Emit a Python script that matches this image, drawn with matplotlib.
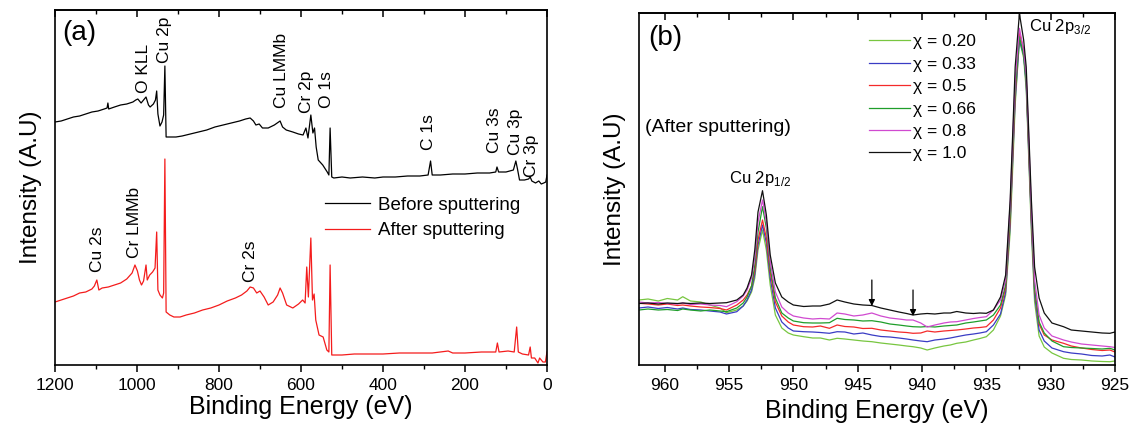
import matplotlib
matplotlib.use("Agg")
import matplotlib.pyplot as plt
from matplotlib.ticker import MultipleLocator

plt.rcParams['font.family'] = ['Liberation Sans', 'DejaVu Sans']
plt.rcParams['mathtext.fontset'] = 'custom'
plt.rcParams['mathtext.rm'] = 'Liberation Sans'

# ---- panel (a): survey spectra (binding energy, intensity a.u.) ----
be_before = [1200, 1185, 1170, 1155, 1140, 1125, 1110, 1095, 1080, 1073, 1071, 1069,
             1055, 1040, 1025, 1010, 1003, 998, 990, 984, 978, 972, 968, 960, 955,
             952, 949, 944, 939, 935, 932, 929, 920, 905, 890, 870, 850, 830, 810,
             790, 770, 750, 735, 724, 716, 710, 702, 694, 680, 665, 651, 645, 636,
             620, 606, 595, 588, 583, 576, 571, 567, 563, 558, 547, 536, 532, 529,
             525, 520, 500, 480, 450, 420, 400, 370, 340, 310, 290, 284, 280, 260,
             230, 200, 170, 140, 125, 122, 118, 100, 82, 76, 72, 67, 55, 45, 41, 37,
             28, 20, 14, 8, 3, 0]
int_before = [243, 244, 246, 248, 249, 251, 253, 254, 256, 257, 262, 256,
              258, 260, 261, 263, 265, 266, 262, 265, 268, 260, 258, 261, 265,
              274, 251, 239, 243, 250, 299, 228, 228, 228, 229, 231, 233, 235, 238,
              240, 242, 244, 246, 247, 244, 240, 241, 237, 237, 240, 244, 238, 235,
              233, 231, 230, 237, 227, 250, 232, 237, 218, 205, 200, 193, 190, 237,
              188, 187, 188, 187, 188, 187, 188, 188, 189, 189, 190, 204, 190, 190,
              191, 191, 192, 192, 193, 198, 193, 193, 195, 204, 196, 185, 185, 186, 188, 184,
              182, 184, 181, 182, 183, 190]

be_after = [1200, 1185, 1170, 1155, 1140, 1125, 1110, 1104, 1098, 1093, 1085, 1070,
            1055, 1040, 1025, 1012, 1005, 999, 994, 989, 984, 978, 975, 969, 962,
            956, 952, 949, 944, 938, 935, 932, 929, 920, 910, 895, 880, 860, 840,
            820, 800, 780, 760, 745, 732, 724, 716, 708, 700, 690, 680, 668, 657,
            651, 645, 635, 620, 606, 596, 590, 586, 582, 576, 572, 568, 564, 556,
            546, 537, 532, 529, 525, 500, 470, 440, 400, 360, 320, 280, 241, 230,
            200, 160, 125, 121, 117, 95, 80, 74, 70, 60, 45, 41, 38, 30, 22, 18,
            10, 4, 0]
int_after = [63, 65, 67, 69, 72, 73, 76, 79, 85, 75, 77, 78,
             80, 82, 86, 92, 100, 94, 85, 80, 84, 100, 85, 90, 93,
             97, 133, 75, 70, 67, 72, 206, 53, 50, 48, 48, 50, 52, 55,
             57, 60, 64, 67, 70, 74, 78, 77, 72, 74, 68, 60, 63, 70,
             77, 72, 60, 57, 61, 65, 62, 98, 68, 127, 65, 71, 45, 30,
             28, 15, 13, 100, 10, 10, 11, 11, 11, 12, 12, 12, 14, 12,
             12, 13, 13, 22, 13, 14, 13, 38, 13, 11, 10, 18, 7, 7, 2, 7,
             3, 3, 13]

peaks_a = ["O KLL", "Cu 2p", "Cu LMMb", "Cr 2p", "O 1s", "C 1s", "Cu 3s", "Cu 3p", "Cr 3p",
           "Cu 2s", "Cr LMMb", "Cr 2s"]
peaks_a_be = [985, 934, 647, 586, 537, 290, 127, 78, 37, 1097, 1005, 723]
peaks_a_int = [272, 302, 257, 252, 257, 215, 212, 210, 188, 93, 107, 83]

# ---- panel (b): Cu 2p region after sputtering ----
be_cu = [962, 961.3, 960.5, 959.8, 959, 958.6, 958, 957.2, 956.5, 955.7,
         955.2, 954.4, 953.9, 953.6, 953.25, 953.0, 952.75, 952.4, 952.1, 951.8,
         951.4, 950.9, 950.4, 950.0, 949.2, 948.5, 947.9, 947.2, 946.6, 946.0,
         945.3, 944.6, 943.9, 943.2, 942.5, 941.8, 941.2, 940.7, 940.1, 939.6,
         939.0, 938.3, 937.8, 937.3, 936.6, 936.0, 935.5, 935.0, 934.45, 933.9,
         933.5, 933.15, 932.95, 932.76, 932.43, 932.1, 931.9, 931.7, 931.5, 931.25,
         930.9, 930.5, 929.9, 929.0, 928.4, 927.6, 926.8, 926.0, 925.4, 925.0]
x020 = [65, 66, 64, 66.5, 65, 68.3, 64, 63, 60, 57,
        52.3, 55, 59, 64, 73, 87, 115, 135, 115, 80,
        50, 37, 32, 30, 28.3, 27, 27, 25, 26.7, 26,
        25, 24, 23.3, 22, 21, 20, 19, 18.3, 17, 15,
        17, 19, 20, 21.7, 23, 25, 26.5, 28.3, 35, 49,
        70, 133, 197, 260, 325, 307, 275, 205, 133, 63,
        29, 18, 12, 6.7, 5.5, 5, 4, 3.5, 3.3, 4]
x033 = [57, 58, 56.5, 57.5, 56, 57, 55.5, 55, 54, 53,
        51, 53.3, 59, 65, 75, 91, 120, 140, 122, 87,
        57, 43, 37, 34, 33.3, 33, 32.5, 31.7, 33.3, 33,
        31, 32, 30, 28.5, 28, 27, 26, 25, 24, 23.3,
        25, 26, 27, 28.3, 30, 31, 32, 33.3, 40, 51,
        73, 140, 205, 265, 325, 310, 280, 210, 140, 70,
        35, 24, 17, 13.3, 12, 11, 9.5, 9, 10, 8]
x050 = [61.7, 61, 60, 61, 59.5, 60, 59, 58, 57.5, 56.5,
        55, 60, 65, 70, 79, 95, 125, 145, 127, 93,
        63, 49, 43, 40, 38.3, 38, 39, 36.7, 40, 38.5,
        38, 36.5, 36.7, 35, 34, 33, 32.5, 31.7, 32, 34,
        33, 34, 34.5, 35, 36, 37, 37.5, 38.3, 45, 57,
        77, 145, 210, 270, 332, 315, 285, 215, 145, 75,
        41, 30, 25, 21.7, 19, 17, 15.5, 14.5, 15, 13]
x066 = [55, 56, 55, 55.5, 54.5, 56, 55, 54, 55, 54,
        53.3, 57, 62, 68, 79, 100, 133, 158.3, 137, 97,
        67, 52, 47, 44, 42.3, 42, 42, 42.3, 46.7, 45.5,
        45, 44, 44.3, 43, 41, 40, 39, 38.3, 38, 38.5,
        38, 39, 39.5, 40, 42, 43, 44, 45, 50, 60,
        80, 150, 215, 275, 328.3, 310, 283, 217, 147, 77,
        43, 32, 24, 18.3, 17.5, 17, 16.5, 16, 16.7, 15]
x080 = [63, 62, 62.5, 61.5, 61, 62, 60.5, 61, 60, 59.5,
        58.3, 63.3, 69, 75, 87, 107, 143, 165, 143, 103,
        73, 58, 52, 49, 47, 46, 46.5, 46, 52, 51,
        49, 50, 52, 49, 47, 46, 45, 45, 42, 38,
        40, 42, 43, 43.3, 45, 46.5, 47.5, 48.3, 55, 65,
        85, 160, 225, 285, 336.7, 315, 290, 225, 155, 85,
        50, 37, 29, 25, 23, 21, 20, 19, 18.3, 17.5]
x100 = [61.5, 62, 61, 62, 61.5, 62, 61.5, 62, 61.5, 62,
        62.3, 65, 70, 77, 90, 115, 153, 174.3, 150, 110,
        82, 68, 63, 60, 58.5, 59, 59, 61, 65, 63,
        61, 60, 59.5, 57, 55, 53, 51.5, 50, 51, 51.5,
        51, 52, 52, 53.5, 52, 51.5, 52, 51.7, 55, 68,
        90, 165, 232, 298, 351.5, 325, 298, 232, 165, 98,
        67, 52, 42, 38.3, 35, 34, 33, 32, 31.7, 33]

chi_labels = ["χ = 0.20", "χ = 0.33", "χ = 0.5", "χ = 0.66", "χ = 0.8", "χ = 1.0"]
chi_colors = ['#78c640', '#3a3cc4', '#f42a2a', '#1f9e2a', '#d04ad0', '#111111']

# satellite positions marked by arrows (BE, arrow top, arrow tip)
arrow_be = [943.9, 940.7]
arrow_top = [85, 75]
arrow_tip = [59, 49]


def style_axis(ax, major, minor, xpad):
    ax.set_yticks([])
    ax.xaxis.set_major_locator(MultipleLocator(major))
    ax.xaxis.set_minor_locator(MultipleLocator(minor))
    ax.tick_params(axis='x', which='major', direction='out', length=5, width=1.1,
                   labelsize=12.5, pad=4)
    ax.tick_params(axis='x', which='minor', direction='out', length=3, width=1.0)
    top = ax.secondary_xaxis('top')
    top.xaxis.set_major_locator(MultipleLocator(major))
    top.xaxis.set_minor_locator(MultipleLocator(minor))
    top.tick_params(axis='x', which='major', direction='in', length=5, width=1.1,
                    labeltop=False)
    top.tick_params(axis='x', which='minor', direction='in', length=3, width=1.0)
    for s in ax.spines.values():
        s.set_linewidth(1.2)
    top.spines['top'].set_linewidth(1.2)
    ax.set_xlabel("Binding Energy (eV)", fontsize=18, labelpad=xpad)
    ax.set_ylabel("Intensity (A.U)", fontsize=17.5, labelpad=9)


fig = plt.figure(figsize=(11.32, 4.29), dpi=100)
ax1 = fig.add_axes([55 / 1132, 64 / 429, 492 / 1132, 355 / 429])
ax2 = fig.add_axes([639 / 1132, 64 / 429, 476 / 1132, 352 / 429])

# panel (a)
ax1.plot(be_before, int_before, color='black', lw=0.9, label='Before sputtering')
ax1.plot(be_after, int_after, color='#f41c1c', lw=0.9, label='After sputtering')
ax1.set_xlim(1200, 0)
ax1.set_ylim(0, 355)
style_axis(ax1, 200, 100, 2)
ax1.text(0.014, 0.935, "(a)", transform=ax1.transAxes, fontsize=20, va='center')
for name, x, y in zip(peaks_a, peaks_a_be, peaks_a_int):
    ax1.text(x, y, name, rotation=90, ha='center', va='bottom', fontsize=12.5)
ax1.legend(loc='upper left', bbox_to_anchor=(0.549, 0.475), frameon=False,
           fontsize=13.5, handlelength=2.4, handletextpad=0.4, labelspacing=0.45,
           borderpad=0, borderaxespad=0)

# panel (b)
for vals, lab, col in zip([x020, x033, x050, x066, x080, x100], chi_labels, chi_colors):
    ax2.plot(be_cu, vals, color=col, lw=0.9, label=lab)
ax2.set_xlim(962, 925)
ax2.set_ylim(0, 352)
style_axis(ax2, 5, 2.5, 5)
ax2.text(0.019, 0.929, "(b)", transform=ax2.transAxes, fontsize=20, va='center')
ax2.text(0.013, 0.676, "(After sputtering)", transform=ax2.transAxes, fontsize=14,
         va='center')
ax2.text(952.6, 186, r"Cu 2p$_{\mathregular{1/2}}$", ha='center', va='center', fontsize=12)
ax2.text(931.7, 338, r"Cu 2p$_{\mathregular{3/2}}$", ha='left', va='center', fontsize=12)
for x, y0, y1 in zip(arrow_be, arrow_top, arrow_tip):
    ax2.annotate("", xy=(x, y1), xytext=(x, y0),
                 arrowprops=dict(arrowstyle='-|>', color='black', lw=0.9,
                                 mutation_scale=9, shrinkA=0, shrinkB=0))
ax2.legend(loc='upper left', bbox_to_anchor=(0.483, 0.94), frameon=False,
           fontsize=12.5, handlelength=2.35, handletextpad=0.2, labelspacing=0.42,
           borderpad=0, borderaxespad=0)

fig.savefig("out.png", dpi=100)
